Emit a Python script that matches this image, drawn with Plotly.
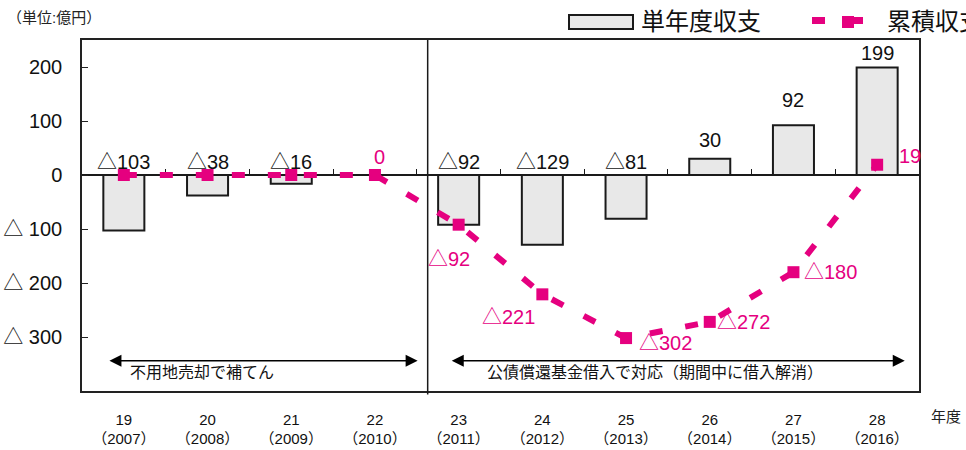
import plotly.graph_objects as go

# ---- data -------------------------------------------------------------
fiscal_years = ["19", "20", "21", "22", "23", "24", "25", "26", "27", "28"]
calendar_years = [2007, 2008, 2009, 2010, 2011, 2012, 2013, 2014, 2015, 2016]
annual_balance = [-103, -38, -16, None, -92, -129, -81, 30, 92, 199]
cumulative_balance = [0, 0, 0, 0, -92, -221, -302, -272, -180, 19]
cumulative_labelled = [3, 4, 5, 6, 7, 8, 9]
y_tick_values = [200, 100, 0, -100, -200, -300]

# ---- styling ----------------------------------------------------------
W, H = 966, 450
ML, MR, MT, MB = 82, 47, 40, 59
Y_RANGE = [-400, 250]
PINK = "#E5007F"
BAR_FILL = "#E8E8E8"
INK = "#1a1a1a"
FONT = "Liberation Sans, Noto Sans CJK JP, sans-serif"


def fmt(v, sep=""):
    return f"△{sep}{abs(v)}" if v < 0 else str(v)


def px_x(p):
    return (p - ML) / (W - ML - MR)


def px_y(p):
    return (H - MB - p) / (H - MT - MB)


n = len(fiscal_years)
idx = list(range(n))
x_ticktext = [f"{fy}<br>（{cy}）" for fy, cy in zip(fiscal_years, calendar_years)]

fig = go.Figure()

fig.add_trace(go.Bar(
    x=idx, y=annual_balance, name="単年度収支",
    marker=dict(color=BAR_FILL, line=dict(color=INK, width=2)),
    showlegend=False, hoverinfo="skip",
))

fig.add_trace(go.Scatter(
    x=idx, y=cumulative_balance, name="累積収支",
    mode="lines+markers",
    line=dict(color=PINK, width=6, dash="13px,23px"),
    marker=dict(symbol="square", size=12, color=PINK),
    showlegend=False, hoverinfo="skip",
))

# helper trace so the zero-line axis (x2) is laid out
fig.add_trace(go.Scatter(
    x=idx, y=cumulative_balance, xaxis="x2", mode="none",
    showlegend=False, hoverinfo="skip",
))

ann = []

# labels for single-year balance
bar_label_shift = {7: 6, 8: 12, 9: 2}
for i, v in enumerate(annual_balance):
    if v is None:
        continue
    ann.append(dict(
        x=i, y=max(v, 0), xref="x", yref="y", text=fmt(v),
        showarrow=False, xanchor="center", yanchor="bottom",
        yshift=bar_label_shift.get(i, 0),
        font=dict(size=20, color="#111", family=FONT),
    ))

# labels for cumulative balance (pixel offsets from each marker)
cum_offsets = {3: (5, 18), 4: (-10, -34), 5: (-34, -23), 6: (39, -5),
               7: (34, 0), 8: (37, 0), 9: (33, 9)}
for i in cumulative_labelled:
    dx, dy = cum_offsets[i]
    ann.append(dict(
        x=i, y=cumulative_balance[i], xref="x", yref="y",
        text=fmt(cumulative_balance[i]), showarrow=False,
        xanchor="center", yanchor="middle", xshift=dx, yshift=dy,
        font=dict(size=20, color=PINK, family=FONT),
    ))

# period arrows and captions
periods = [
    (-0.19, 3.51, 0.93, "不用地売却で補てん"),
    (3.90, 9.33, 6.35, "公債償還基金借入で対応（期間中に借入解消）"),
]
for x0, x1, xc, caption in periods:
    ann.append(dict(
        x=x1, y=-344, ax=x0, ay=-344, xref="x2", yref="y",
        axref="x2", ayref="y", text="", showarrow=True,
        arrowside="end+start", arrowhead=2, arrowsize=1.6,
        arrowwidth=1.5, arrowcolor="#000",
    ))
    ann.append(dict(
        x=xc, y=-366, xref="x2", yref="y", text=caption, showarrow=False,
        xanchor="center", yanchor="middle",
        font=dict(size=16, color="#111", family=FONT),
    ))

# unit and axis captions
ann.append(dict(x=px_x(5), y=px_y(18), xref="paper", yref="paper",
                text="（単位:億円）", showarrow=False, xanchor="left",
                yanchor="middle", font=dict(size=15, color="#222", family=FONT)))
ann.append(dict(x=px_x(929), y=px_y(417), xref="paper", yref="paper",
                text="年度", showarrow=False, xanchor="left",
                yanchor="middle", font=dict(size=15, color="#222", family=FONT)))

# legend entries
ann.append(dict(x=px_x(639), y=px_y(22), xref="paper", yref="paper",
                text="単年度収支", showarrow=False, xanchor="left",
                yanchor="middle", font=dict(size=24, color="#111", family=FONT)))
ann.append(dict(x=px_x(885), y=px_y(22), xref="paper", yref="paper",
                text="累積収支", showarrow=False, xanchor="left",
                yanchor="middle", font=dict(size=24, color="#111", family=FONT)))

shapes = [
    # period divider
    dict(type="line", xref="x2", yref="paper", x0=3.63, x1=3.63,
         y0=-0.01, y1=1, line=dict(color=INK, width=1.5)),
    # legend swatch for bars
    dict(type="rect", xref="paper", yref="paper",
         x0=px_x(569), x1=px_x(633), y0=px_y(29), y1=px_y(15),
         fillcolor=BAR_FILL, line=dict(color=INK, width=2)),
    # legend swatch for cumulative line
    dict(type="rect", xref="paper", yref="paper",
         x0=px_x(812), x1=px_x(825), y0=px_y(24), y1=px_y(17),
         fillcolor=PINK, line=dict(width=0)),
    dict(type="rect", xref="paper", yref="paper",
         x0=px_x(842), x1=px_x(863), y0=px_y(24), y1=px_y(17),
         fillcolor=PINK, line=dict(width=0)),
    dict(type="rect", xref="paper", yref="paper",
         x0=px_x(842), x1=px_x(854), y0=px_y(28), y1=px_y(16),
         fillcolor=PINK, line=dict(width=0)),
]

fig.update_layout(
    width=W, height=H,
    margin=dict(l=ML, r=MR, t=MT, b=MB, pad=0, autoexpand=False),
    paper_bgcolor="white", plot_bgcolor="white",
    font=dict(family=FONT, color="#111"),
    bargap=0.51, showlegend=False,
    annotations=ann, shapes=shapes,
    xaxis=dict(
        range=[-0.5, n - 0.5], tickmode="array", tickvals=idx,
        ticktext=x_ticktext, ticks="", showgrid=False, zeroline=False,
        showline=True, mirror=True, linecolor="#222", linewidth=1.5,
        tickfont=dict(size=15, color="#111"), ticklabelstandoff=14,
        automargin=False,
    ),
    xaxis2=dict(
        overlaying="x", anchor="free",
        position=(0 - Y_RANGE[0]) / (Y_RANGE[1] - Y_RANGE[0]),
        range=[-0.5, n - 0.5], tickmode="array",
        tickvals=[i + 0.5 for i in idx[:-1]], ticks="inside", ticklen=5,
        tickcolor=INK, tickwidth=1.2, showticklabels=False,
        showline=True, linecolor=INK, linewidth=1.5, showgrid=False,
        zeroline=False, layer="below traces", automargin=False,
    ),
    yaxis=dict(
        range=Y_RANGE, tickmode="array", tickvals=y_tick_values,
        ticktext=[fmt(v, " ") for v in y_tick_values],
        ticks="inside", ticklen=6, tickcolor="#222",
        showgrid=False, zeroline=False, showline=True, mirror=True,
        linecolor="#222", linewidth=1.5,
        tickfont=dict(size=20, color="#111"), ticklabelstandoff=14,
        automargin=False,
    ),
)

fig.write_html("out.html")
